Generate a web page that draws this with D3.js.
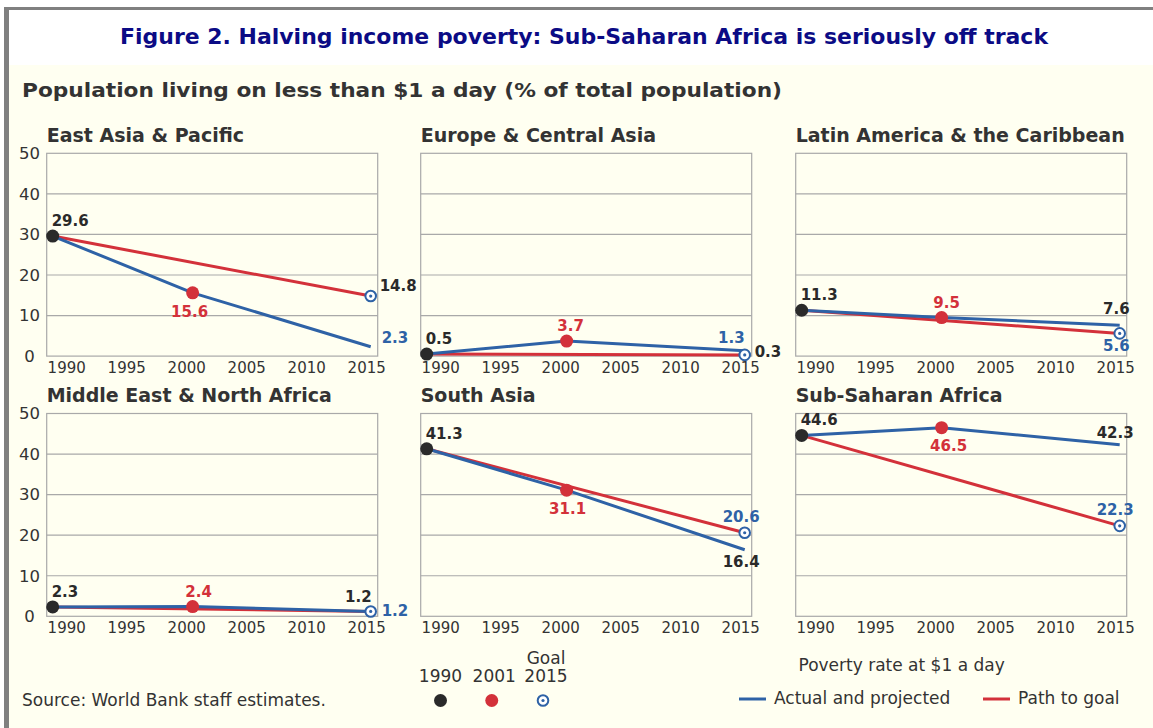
<!DOCTYPE html>
<html><head><meta charset="utf-8">
<script src="https://cdn.jsdelivr.net/npm/d3@7"></script>
<style>
body{margin:0;background:#fff;}
svg{display:block;font-family:"DejaVu Sans",Verdana,sans-serif;}
</style>
</head><body>
<svg id="c" width="1153" height="728"></svg>
<script>
// ---------- data ----------
const regions = ["East Asia & Pacific","Europe & Central Asia","Latin America & the Caribbean",
                 "Middle East & North Africa","South Asia","Sub-Saharan Africa"];
const rate1990 = [29.6, 0.5, 11.3, 2.3, 41.3, 44.6];
const rate2001 = [15.6, 3.7, 9.5, 2.4, 31.1, 46.5];
const projected2015 = [2.3, 1.3, 7.6, 1.2, 16.4, 42.3];
const goal2015 = [14.8, 0.3, 5.6, 1.2, 20.6, 22.3];
const yearStart = 1990, yearMid = 2001, yearEnd = 2015;
const xTickValues = [1990, 1995, 2000, 2005, 2010, 2015];
const yTickValues = [0, 10, 20, 30, 40, 50];
const gridValues = [10, 20, 30, 40];
const markerLegend = [["1990"], ["2001"], ["Goal", "2015"]];
const lineLegend = ["Actual and projected", "Path to goal"];
const titleText = "Figure 2. Halving income poverty: Sub-Saharan Africa is seriously off track";
const subtitleText = "Population living on less than $1 a day (% of total population)";
const legendTitle = "Poverty rate at $1 a day";
const sourceText = "Source: World Bank staff estimates.";

// ---------- styles / placement ----------
const C = {blue:"#2e62a6", red:"#d3313a", dark:"#2a2a2a", text:"#333", grid:"#a9a9a9", navy:"#0b0b85", cream:"#fffff1"};
const FONT = '"DejaVu Sans",Verdana,sans-serif';
// label placement per panel (positions/styles only)
const place = [
  {mid:{dx:-3, dy:24}, proj:{dx:11, dy:-4, anchor:"start", color:C.blue}, goal:{dx:9, dy:-5, anchor:"start", color:C.dark}},
  {mid:{dx:4, dy:-10}, proj:{dx:0, dy:-8, anchor:"end", color:C.blue}, goal:{dx:10, dy:2, anchor:"start", color:C.dark}},
  {mid:{dx:5, dy:-10}, proj:{dx:10, dy:-11.5, anchor:"end", color:C.dark}, goal:{dx:10, dy:18, anchor:"end", color:C.blue}},
  {mid:{dx:6, dy:-10}, proj:{dx:1, dy:-9.5, anchor:"end", color:C.dark}, goal:{dx:11, dy:5, anchor:"start", color:C.blue}},
  {mid:{dx:1, dy:24}, proj:{dx:15, dy:17, anchor:"end", color:C.dark}, goal:{dx:15, dy:-10.5, anchor:"end", color:C.blue}},
  {mid:{dx:7, dy:23.5}, proj:{dx:14, dy:-7, anchor:"end", color:C.dark}, goal:{dx:14, dy:-10.5, anchor:"end", color:C.blue}}
];

const svg = d3.select("#c");

// frame & backgrounds
svg.append("rect").attr("x",0).attr("y",0).attr("width",1153).attr("height",728).attr("fill","#fff");
svg.append("rect").attr("x",9).attr("y",65).attr("width",1144).attr("height",663).attr("fill",C.cream);
svg.append("rect").attr("x",4).attr("y",7).attr("width",1149).attr("height",3).attr("fill","#808080");
svg.append("rect").attr("x",4).attr("y",7).attr("width",5).attr("height",721).attr("fill","#808080");

// titles
svg.append("text").attr("x",120).attr("y",44).attr("fill",C.navy)
  .attr("font-size",22).attr("font-weight","bold")
  .attr("textLength",928).attr("lengthAdjust","spacingAndGlyphs").text(titleText);
svg.append("text").attr("x",22).attr("y",97).attr("fill",C.text)
  .attr("font-size",20).attr("font-weight","bold")
  .attr("textLength",760).attr("lengthAdjust","spacingAndGlyphs").text(subtitleText);

const panelW = 331, panelH = 202.8;
const lefts = [46.7, 420.7, 795.7];
const tops = [153.3, 413.5];

regions.forEach((name, i) => {
  const col = i % 3, row = Math.floor(i / 3);
  const L = lefts[col], T = tops[row];
  const g = svg.append("g");
  const y = d3.scaleLinear().domain([0, 50]).range([T + panelH, T]);
  const x = d3.scaleLinear().domain([yearStart, yearEnd]).range([L + 6, L + 324]);
  const xt = d3.scaleLinear().domain([yearStart, yearEnd]).range([L + 19.5, L + 319.5]);

  // region title
  g.append("text").attr("x", L).attr("y", T - 11.6).attr("fill", C.text)
    .attr("font-size", 19).attr("font-weight", "bold").text(name);

  // panel box
  g.append("rect").attr("x", L).attr("y", T).attr("width", panelW).attr("height", panelH)
    .attr("fill", C.cream).attr("stroke", C.grid).attr("stroke-width", 1.2);
  // grid
  g.selectAll("line.grid").data(gridValues).join("line").attr("class","grid")
    .attr("x1", L).attr("x2", L + panelW)
    .attr("y1", d => y(d)).attr("y2", d => y(d))
    .attr("stroke", C.grid).attr("stroke-width", 1.2);

  // x axis labels
  const ax = g.append("g").attr("transform", `translate(0,${T + panelH})`)
    .call(d3.axisBottom(xt).tickValues(xTickValues).tickSize(0).tickPadding(6).tickFormat(d3.format("d")))
    .attr("font-family", FONT).attr("font-size", 15);
  ax.select(".domain").remove();
  ax.selectAll("text").attr("fill", C.text);

  // y axis labels (left column only)
  if (col === 0) {
    const ay = g.append("g").attr("transform", `translate(29.5,0)`)
      .call(d3.axisLeft(y).tickValues(yTickValues).tickSize(0).tickPadding(0))
      .attr("font-family", FONT).attr("font-size", 16.5);
    ay.select(".domain").remove();
    ay.selectAll("text").attr("fill", C.text).attr("text-anchor", "middle").attr("x", 0);
  }

  // lines
  const pathPts = [[yearStart, rate1990[i]], [yearEnd, goal2015[i]]];
  const actualPts = [[yearStart, rate1990[i]], [yearMid, rate2001[i]], [yearEnd, projected2015[i]]];
  const line = d3.line().x(d => x(d[0])).y(d => y(d[1]));
  g.append("path").attr("d", line(pathPts)).attr("fill", "none")
    .attr("stroke", C.red).attr("stroke-width", 3);
  g.append("path").attr("d", line(actualPts)).attr("fill", "none")
    .attr("stroke", C.blue).attr("stroke-width", 3).attr("stroke-linejoin", "round");

  // markers
  g.append("circle").attr("cx", x(yearStart)).attr("cy", y(rate1990[i])).attr("r", 6.5).attr("fill", C.dark);
  g.append("circle").attr("cx", x(yearMid)).attr("cy", y(rate2001[i])).attr("r", 6.5).attr("fill", C.red);
  g.append("circle").attr("cx", x(yearEnd)).attr("cy", y(goal2015[i])).attr("r", 5.3)
    .attr("fill", "#fff").attr("stroke", C.blue).attr("stroke-width", 2);
  g.append("circle").attr("cx", x(yearEnd)).attr("cy", y(goal2015[i])).attr("r", 1.6).attr("fill", C.blue);

  // value labels
  const p = place[i];
  const lab = (xx, yy, txt, color, anchor) => g.append("text").attr("x", xx).attr("y", yy)
    .attr("fill", color).attr("text-anchor", anchor).attr("font-size", 15).attr("font-weight", "bold").text(txt);
  lab(x(yearStart) - 1, y(rate1990[i]) - 10, d3.format(".1f")(rate1990[i]), C.dark, "start");
  lab(x(yearMid) + p.mid.dx, y(rate2001[i]) + p.mid.dy, d3.format(".1f")(rate2001[i]), C.red, "middle");
  lab(x(yearEnd) + p.proj.dx, y(projected2015[i]) + p.proj.dy, d3.format(".1f")(projected2015[i]), p.proj.color, p.proj.anchor);
  lab(x(yearEnd) + p.goal.dx, y(goal2015[i]) + p.goal.dy, d3.format(".1f")(goal2015[i]), p.goal.color, p.goal.anchor);
});

// ---------- legend ----------
const lg = svg.append("g");
const markerX = d3.scalePoint().domain(markerLegend.map(d => d.join(" "))).range([440.5, 543]);
markerLegend.forEach((lines, k) => {
  const cx = markerX(lines.join(" "));
  lines.slice().reverse().forEach((t, j) => {
    lg.append("text").attr("x", cx + (k === 0 ? 0 : k === 1 ? 2.5 : 3)).attr("y", 682 - j * 18)
      .attr("text-anchor", "middle").attr("font-size", 17).attr("fill", C.text).text(t);
  });
});
const mx = markerLegend.map(d => markerX(d.join(" ")));
lg.append("circle").attr("cx", mx[0]).attr("cy", 700.5).attr("r", 6.5).attr("fill", C.dark);
lg.append("circle").attr("cx", mx[1]).attr("cy", 700.5).attr("r", 6.5).attr("fill", C.red);
lg.append("circle").attr("cx", mx[2]).attr("cy", 700.5).attr("r", 5.3).attr("fill", "#fff")
  .attr("stroke", C.blue).attr("stroke-width", 2);
lg.append("circle").attr("cx", mx[2]).attr("cy", 700.5).attr("r", 1.6).attr("fill", C.blue);

lg.append("text").attr("x", 798.5).attr("y", 671).attr("font-size", 17).attr("fill", C.text).text(legendTitle);
const lineColors = [C.blue, C.red];
const lineX = [739, 983];
lineLegend.forEach((t, k) => {
  lg.append("line").attr("x1", lineX[k]).attr("x2", lineX[k] + 27).attr("y1", 699).attr("y2", 699)
    .attr("stroke", lineColors[k]).attr("stroke-width", 3);
  lg.append("text").attr("x", lineX[k] + 35).attr("y", 704).attr("font-size", 17).attr("fill", C.text).text(t);
});

svg.append("text").attr("x", 22).attr("y", 706).attr("font-size", 17).attr("fill", C.text).text(sourceText);
</script>
</body></html>
